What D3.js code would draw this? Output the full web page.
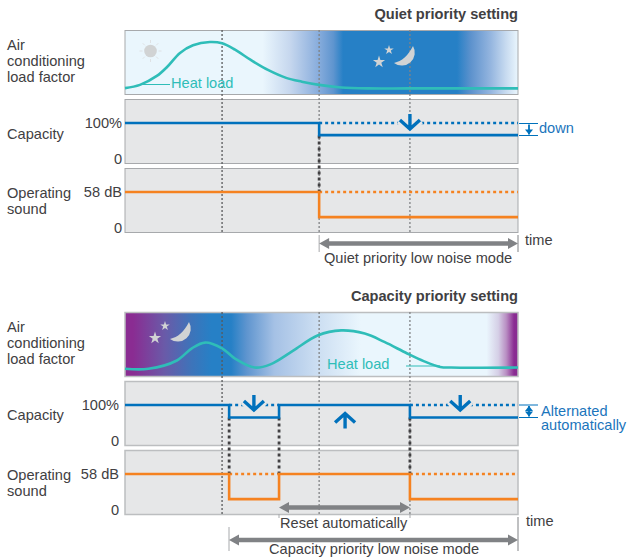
<!DOCTYPE html>
<html>
<head>
<meta charset="utf-8">
<script src="https://cdn.jsdelivr.net/npm/d3@7"></script>
<style>
  body { margin: 0; background: #fff; }
  svg { display: block; font-family: "Liberation Sans", Arial, sans-serif; }
</style>
</head>
<body>
<svg id="chart" width="627" height="557"></svg>
<script>
// time runs 0-100 across the panel width
const quietLoadTime = [0, 3.8, 8.1, 10.7, 14, 17.3, 21.6, 24.7, 28, 32, 36.5, 41, 45, 49.4, 55, 62, 72, 100];
const quietLoadValues = [10, 15, 29, 43, 65, 77, 82, 80, 70, 54, 38, 26, 20, 15, 11, 9.5, 9.5, 9.5];
const capacityLoadTime = [0, 6, 13.2, 17, 20.4, 24.7, 28, 33, 37, 42.7, 49, 55, 61, 66, 71.8, 76, 80.2, 83, 100];
const capacityLoadValues = [12, 12, 25, 44, 53, 44, 28, 14, 19, 40, 64, 72, 67, 54, 36, 24, 15, 14, 14];

const quietStepTime = [0, 49.4, 100];
const quietCapacity = [100, 70, 70];
const quietSound = [58, 22, 22];
const capacityStepTime = [0, 26.5, 39.2, 72.5, 100];
const capacityCapacity = [100, 69, 100, 69, 69];
const capacitySound = [58, 22, 58, 22, 22];

const capacityTicks = [0, 100];
const soundTicks = [0, 58];

const FONT_SIZE = 14.6;
const COLORS = {
  text: "#414042",
  blue: "#0071bc",
  label: "#1b75bc",
  orange: "#f58220",
  teal: "#2fbdb8",
  panel: "#e6e7e8",
  border: "#a7a9ac",
  icon: "#d1d3d4",
  arrow: "#808285"
};

const svg = d3.select("#chart");
const defs = svg.append("defs");
const time = d3.scaleLinear().domain([0, 100]).range([125, 518]);

const LIGHT = "#eaf6fd", NIGHT = "#2680c6", PURPLE = "#8a2c92";

function addGradient(id, stops) {
  defs.append("linearGradient").attr("id", id)
    .selectAll("stop").data(stops).enter().append("stop")
    .attr("offset", d => d[0] + "%")
    .attr("stop-color", d => d[1]);
}

addGradient("skyQuiet", [
  [0, LIGHT], [35, LIGHT], [42, "#c6d7ee"], [49, "#8aaedd"], [53, "#5f95cf"], [55.5, NIGHT],
  [84.5, NIGHT], [88, "#5d92cd"], [93, "#94b5df"], [97, "#c8dbf0"], [100, LIGHT]
]);
addGradient("skyCapacity", [
  [0, PURPLE], [2, PURPLE], [10, "#6a5aa8"], [17, "#3d74ba"], [22, NIGHT], [27, NIGHT], [31, "#5f95cf"],
  [38, "#a5c1e5"], [48, "#c9dcf1"], [60, LIGHT], [92, LIGHT], [95, "#d5cfe6"], [97, "#b98fc3"], [99, PURPLE], [100, PURPLE]
]);

function text(x, y, str, opts) {
  const o = Object.assign({ size: FONT_SIZE, fill: COLORS.text, anchor: "start", weight: "normal" }, opts);
  return svg.append("text")
    .attr("x", x).attr("y", y)
    .attr("font-size", o.size)
    .attr("font-weight", o.weight)
    .attr("text-anchor", o.anchor)
    .attr("fill", o.fill)
    .text(str);
}

function panel(top, fill, s) {
  svg.append("rect")
    .attr("x", 125).attr("y", top + 0.5)
    .attr("width", 393).attr("height", 64)
    .attr("fill", fill)
    .attr("stroke", s.border)
    .attr("stroke-width", s.borderWidth);
}

function vline(x, y1, y2, color, width, dash) {
  svg.append("line")
    .attr("x1", x).attr("x2", x).attr("y1", y1).attr("y2", y2)
    .attr("stroke", color).attr("stroke-width", width)
    .attr("stroke-dasharray", dash || null);
}

function yAxis(scale, ticks, format, padding) {
  const g = svg.append("g")
    .attr("transform", "translate(125,0)")
    .call(d3.axisLeft(scale).tickValues(ticks).tickSize(0).tickPadding(padding).tickFormat(format));
  g.select(".domain").remove();
  g.selectAll("text")
    .attr("font-size", FONT_SIZE)
    .attr("font-family", "'Liberation Sans', Arial, sans-serif")
    .attr("fill", COLORS.text)
    .attr("y", d => (d === 0 ? -5 : 0));
}

function stepLine(y, times, values, color) {
  const line = d3.line()
    .x(d => time(d[0]))
    .y(d => y(d[1]))
    .curve(d3.curveStepAfter);
  svg.append("path")
    .attr("d", line(d3.zip(times, values)))
    .attr("fill", "none")
    .attr("stroke", color)
    .attr("stroke-width", 2.6);
}

function dottedTop(y, value, from, to, color) {
  svg.append("line")
    .attr("x1", time(from)).attr("x2", time(to))
    .attr("y1", y(value)).attr("y2", y(value))
    .attr("stroke", color)
    .attr("stroke-width", 2.6)
    .attr("stroke-dasharray", "3 3");
}

function blueArrow(x, yTip, up) {
  // chevron arrow with a panel-coloured halo, which breaks the dotted line behind it
  const dir = up ? -1 : 1;
  const d = `M${x},${yTip - dir * 17}V${yTip - dir * 2}M${x - 10},${yTip - dir * 11}L${x},${yTip - dir * 2}L${x + 10},${yTip - dir * 11}`;
  svg.append("path").attr("d", d).attr("fill", "none")
    .attr("stroke", COLORS.panel).attr("stroke-width", 9);
  svg.append("path").attr("d", d).attr("fill", "none")
    .attr("stroke", COLORS.blue).attr("stroke-width", 3.4);
}

function grayArrow(x1, x2, y) {
  const h = 5.5, len = 10;
  svg.append("line")
    .attr("x1", x1 + 5).attr("x2", x2 - 5).attr("y1", y).attr("y2", y)
    .attr("stroke", COLORS.arrow).attr("stroke-width", 4.5);
  svg.append("path")
    .attr("d", `M${x2},${y}L${x2 - len},${y - h}V${y + h}Z`)
    .attr("fill", COLORS.arrow);
  svg.append("path")
    .attr("d", `M${x1},${y}L${x1 + len},${y - h}V${y + h}Z`)
    .attr("fill", COLORS.arrow);
}

function moon(cx, cy) {
  // crescent made of an arc and a curve, with the stars placed to its left
  svg.append("path")
    .attr("transform", `translate(${cx},${cy})`)
    .attr("d", "M8,-11A13,13,0,0,1,-11,6C-3,4,3,-1,8,-11Z")
    .attr("fill", COLORS.icon);
  const star = d3.symbol().type(d3.symbolStar);
  svg.append("path").attr("transform", `translate(${cx - 16},${cy - 7})`)
    .attr("d", star.size(28)()).attr("fill", COLORS.icon);
  svg.append("path").attr("transform", `translate(${cx - 26},${cy + 5})`)
    .attr("d", star.size(46)()).attr("fill", COLORS.icon);
}

function sun(cx, cy) {
  const rays = d3.range(0, 360, 45);
  svg.append("g").selectAll("line").data(rays).enter().append("line")
    .attr("transform", d => `translate(${cx},${cy}) rotate(${d})`)
    .attr("x1", 8).attr("x2", 11)
    .attr("stroke", "#dcddde").attr("stroke-width", 0.8);
  svg.append("circle").attr("cx", cx).attr("cy", cy).attr("r", 6.3).attr("fill", COLORS.icon);
}

function rowLabels(top, capY, soundY) {
  ["Air", "conditioning", "load factor"].forEach((s, i) => text(7, top + 20 + i * 16, s));
  text(7, capY, "Capacity");
  text(7, soundY, "Operating");
  text(7, soundY + 16, "sound");
}

function drawSetting(s) {
  const t = s.top;
  const capTop = t + 69, soundTop = t + 138;

  const loadY = d3.scaleLinear().domain([0, 100]).range([t + 64.5, t + 0.5]);
  const capY = d3.scaleLinear().domain([0, 100]).range([capTop + 64.5, capTop + 24]);
  const soundY = d3.scaleLinear().domain([0, 58]).range([soundTop + 64.5, soundTop + 24]);

  panel(t, `url(#${s.sky})`, s);
  panel(capTop, COLORS.panel, s);
  panel(soundTop, COLORS.panel, s);

  // time markers
  [24.7, 49.4, 72.5].forEach(m => {
    const dark = m < 30 ? "#58595b" : "#808285";
    vline(time(m), t, soundTop + 65, dark, 1.3, "2 2");
  });

  s.icons();

  // heat load curve
  const loadLine = d3.line()
    .x(d => time(d[0]))
    .y(d => loadY(d[1]))
    .curve(d3.curveCatmullRom.alpha(0.5));
  svg.append("path")
    .attr("d", loadLine(d3.zip(s.loadTime, s.loadValues)))
    .attr("fill", "none")
    .attr("stroke", COLORS.teal)
    .attr("stroke-width", 2.6);

  s.dotted.forEach(d => {
    dottedTop(capY, 100, d[0], d[1], COLORS.blue);
    dottedTop(soundY, 58, d[0], d[1], COLORS.orange);
  });

  // dark dotted links between the capacity and sound steps
  s.stepTime.slice(1, -1).forEach(m => {
    vline(time(m), capY(69), soundY(58), "#414042", 2.8, "3 3");
  });

  s.arrows.forEach(a => blueArrow(time(a[0]), a[1], a[2]));

  stepLine(capY, s.stepTime, s.capacity, COLORS.blue);
  stepLine(soundY, s.stepTime, s.sound, COLORS.orange);

  yAxis(capY, capacityTicks, d => (d ? d + "%" : "0"), s.tickPad);
  yAxis(soundY, soundTicks, d => (d ? d + " dB" : "0"), s.tickPad);

  rowLabels(t, s.capLabelY, t + 168);
  text(518, s.titleY, s.title, { weight: "bold", anchor: "end" });
}

drawSetting({
  top: 30,
  title: "Quiet priority setting",
  titleY: 19,
  capLabelY: 139,
  border: "#a7a9ac",
  borderWidth: 1,
  sky: "skyQuiet",
  loadTime: quietLoadTime,
  loadValues: quietLoadValues,
  stepTime: quietStepTime,
  capacity: quietCapacity,
  sound: quietSound,
  dotted: [[49.4, 100]],
  arrows: [[72.5, 131, false]],
  tickPad: 3,
  icons: () => {
    sun(150.5, 51);
    moon(405, 57);
  }
});

drawSetting({
  top: 312,
  title: "Capacity priority setting",
  titleY: 301,
  capLabelY: 420,
  border: "#bcbec0",
  borderWidth: 1.5,
  sky: "skyCapacity",
  loadTime: capacityLoadTime,
  loadValues: capacityLoadValues,
  stepTime: capacityStepTime,
  capacity: capacityCapacity,
  sound: capacitySound,
  dotted: [[26.5, 39.2], [72.5, 100]],
  arrows: [[32.8, 412, false], [56, 411.5, true], [85.3, 412, false]],
  tickPad: 6,
  icons: () => {
    moon(181, 333);
  }
});

// heat load captions
svg.append("line").attr("x1", 141).attr("x2", 170).attr("y1", 84.5).attr("y2", 84.5)
  .attr("stroke", COLORS.teal).attr("stroke-width", 1);
text(171, 88, "Heat load", { fill: COLORS.teal });
svg.append("line").attr("x1", 406).attr("x2", 440).attr("y1", 366).attr("y2", 366)
  .attr("stroke", COLORS.teal).attr("stroke-width", 1);
text(327, 369, "Heat load", { fill: COLORS.teal });

// capacity brackets
function bracket(y1, y2, both) {
  [y1, y2].forEach(y => svg.append("line")
    .attr("x1", 519).attr("x2", 538).attr("y1", y).attr("y2", y)
    .attr("stroke", COLORS.blue).attr("stroke-width", 1));
  vline(529, y1 + 1, y2 - 1, COLORS.blue, 1.8);
  svg.append("path").attr("d", `M529,${y2 - 1}l-4,-5h8Z`).attr("fill", COLORS.blue);
  if (both) svg.append("path").attr("d", `M529,${y1 + 1}l-4,5h8Z`).attr("fill", COLORS.blue);
}
bracket(123.5, 135.5, false);
text(539, 133, "down", { fill: COLORS.label });
bracket(405, 417.5, true);
text(541, 416, "Alternated", { fill: COLORS.label });
text(541, 429.5, "automatically", { fill: COLORS.label });

// mode spans, top block
vline(time(49.4), 235, 252, COLORS.border, 1);
vline(518, 235, 252, COLORS.arrow, 1);
grayArrow(time(49.4), 518, 243.5);
text(525, 245, "time");
text(324, 263, "Quiet priority low noise mode");

// mode spans, bottom block
vline(279, 514, 518, COLORS.border, 1);
vline(410, 514, 518, COLORS.border, 1);
grayArrow(279, 410, 507.5);
text(280, 528, "Reset automatically");
vline(229, 527, 551, COLORS.border, 1);
vline(518, 517, 551, COLORS.arrow, 1);
grayArrow(229, 518, 540);
text(526, 526, "time");
text(269, 554, "Capacity priority low noise mode");
</script>
</body>
</html>
